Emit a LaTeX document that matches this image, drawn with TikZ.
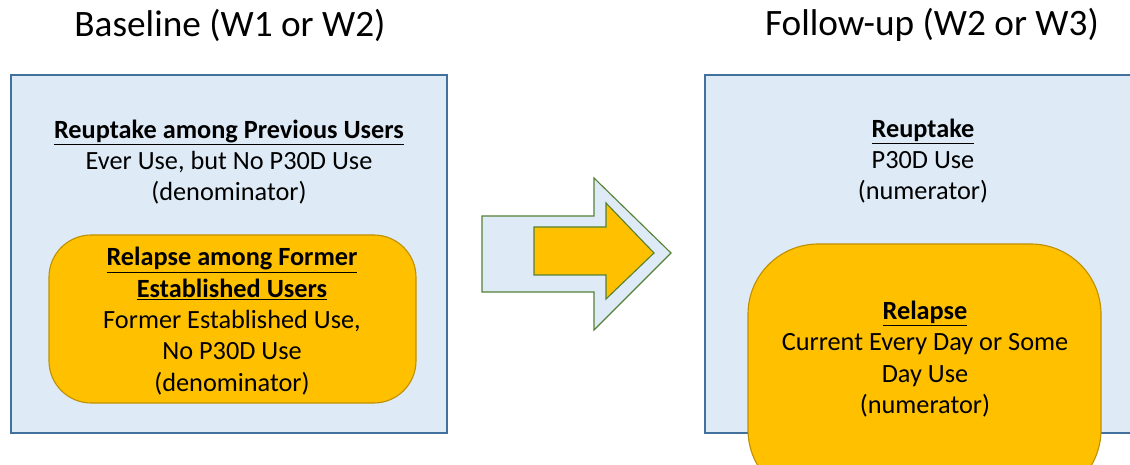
\documentclass[tikz,border=0pt]{standalone}
\usepackage{fontspec}
\setmainfont{Carlito}
\definecolor{paleblue}{RGB}{222,235,247}
\definecolor{boxline}{RGB}{65,113,156}
\definecolor{amber}{RGB}{255,192,0}
\definecolor{amberline}{RGB}{191,144,0}
\definecolor{leaf}{RGB}{84,130,53}
\newcommand{\hdline}[1]{\textbf{\underline{#1}}}
\tikzset{
  wave/.style={font=\fontsize{26.5}{30}\selectfont},
  body/.style={align=center,font=\fontsize{18.7}{22.3}\selectfont,inner sep=0pt},
  stage/.style={fill=paleblue,draw=boxline,line width=0.8pt},
  group/.style={fill=amber,draw=amberline,line width=0.8pt}
}
\begin{document}
\begin{tikzpicture}[x=0.025cm,y=-0.025cm]
\useasboundingbox (0,0) rectangle (1130,465);
\clip (0,0) rectangle (1130,465);

      % titles
      \node[wave] (basetitle) at (230,25) {Baseline (W1 or W2)};
      \node[wave] (followtitle) at (932,25) {Follow-up (W2 or W3)};

      % baseline side
      \draw[stage] (11,75) rectangle (447,433);
      \draw[group,rounded corners=30] (49,235) rectangle (416,403);
      \node[body] (basetext) at (229,162) {\hdline{Reuptake among Previous Users}\\Ever Use, but No P30D Use\\(denominator)};
      \node[body] (baserelapse) at (232,321) {\hdline{Relapse among Former}\\\hdline{Established Users}\\Former Established Use,\\No P30D Use\\(denominator)};

      % arrow
      \draw[fill=paleblue,draw=leaf,line width=0.8pt] (482,216) -- (594,216) -- (594,178) -- (671,253) -- (594,330) -- (594,292) -- (482,292) -- cycle;
      \draw[fill=amber,draw=leaf,line width=0.8pt] (534,227) -- (606,227) -- (606,203) -- (654,253) -- (606,299) -- (606,275) -- (534,275) -- cycle;

      % follow-up side
      \draw[stage] (705,75) rectangle (1160,433);
      \draw[group,rounded corners=50] (748,244) rectangle (1101,500);
      \node[body] (followtext) at (923,161) {\hdline{Reuptake}\\P30D Use\\(numerator)};
      \node[body] (followrelapse) at (925,359) {\hdline{Relapse}\\Current Every Day or Some\\Day Use\\(numerator)};
\end{tikzpicture}
\end{document}
